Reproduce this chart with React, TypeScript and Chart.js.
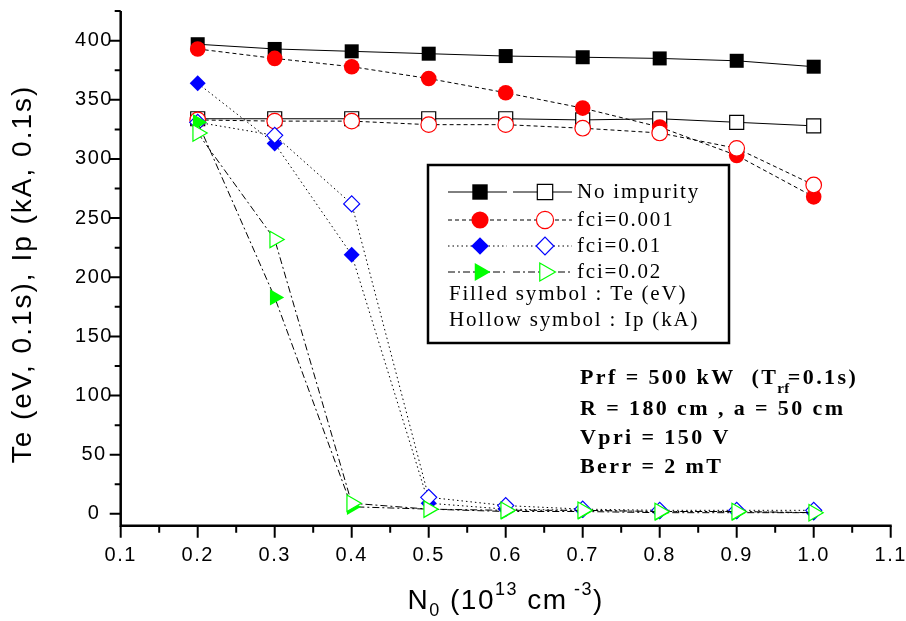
import React, { useEffect, useRef } from 'react';
import { Chart, registerables } from 'chart.js';

Chart.register(...registerables);

const W = 906;
const H = 621;

// ---- data ----
const nValues = [0.2, 0.3, 0.4, 0.5, 0.6, 0.7, 0.8, 0.9, 1.0];
const teNoImpurity = [397, 393, 391, 389, 387, 386, 385, 383, 378];
const ipNoImpurity = [334, 334, 334, 334, 334, 333, 334, 331, 328];
const teFci001 = [393, 385, 378, 368, 356, 343, 327, 303, 268];
const ipFci001 = [333, 332, 332, 329, 329, 326, 322, 309, 278];
const teFci01 = [364, 313, 219, 9, 4, 3, 2, 2, 1];
const ipFci01 = [331, 320, 262, 14, 7, 4, 3, 3, 3];
const teFci02 = [331, 183, 6, 4, 2, 2, 1, 1, 1];
const ipFci02 = [322, 232, 9, 4, 3, 3, 2, 2, 1];

const xTickValues = [0.1, 0.2, 0.3, 0.4, 0.5, 0.6, 0.7, 0.8, 0.9, 1.0, 1.1];
const xMinorTickValues = [0.15, 0.25, 0.35, 0.45, 0.55, 0.65, 0.75, 0.85, 0.95, 1.05];
const yTickValues = [0, 50, 100, 150, 200, 250, 300, 350, 400];
const yMinorTickValues = [25, 75, 125, 175, 225, 275, 325, 375, 425];

const seriesNames = ['No impurity', 'fci=0.001', 'fci=0.01', 'fci=0.02'];
const legendNotes = ['Filled symbol : Te (eV)', 'Hollow symbol : Ip (kA)'];
const infoLines = ['Prf = 500 kW  (T', 'R = 180 cm , a = 50 cm', 'Vpri = 150 V', 'Berr = 2 mT'];
const infoSub = 'rf';
const infoTail = '=0.1s)';
const yTitle = 'Te (eV, 0.1s), Ip (kA, 0.1s)';

// ---- styles ----
const seriesColors = ['#000000', '#ff0000', '#0000ff', '#00ff00'];
const seriesShapes = ['rect', 'circle', 'rectRot', 'triangle'];
const seriesRadius = [9.9, 7.8, 8, 9.5];
const seriesRotation = [0, 0, 0, 90];
const seriesDash = [[], [4, 3], [1.5, 3], [7, 3, 2, 3]];

const groups = [
  [teNoImpurity, ipNoImpurity],
  [teFci001, ipFci001],
  [teFci01, ipFci01],
  [teFci02, ipFci02],
];

const SANS = '"Liberation Sans", Arial, sans-serif';
const SERIF = '"Liberation Serif", "Times New Roman", serif';

function marker(ctx, shape, x, y, r, rot, fill, stroke, lw) {
  ctx.save();
  ctx.setLineDash([]);
  ctx.beginPath();
  if (shape === 'rect') {
    const s = r * Math.SQRT1_2;
    ctx.rect(x - s, y - s, 2 * s, 2 * s);
  } else if (shape === 'circle') {
    ctx.arc(x, y, r, 0, Math.PI * 2);
  } else if (shape === 'rectRot') {
    ctx.moveTo(x - r, y);
    ctx.lineTo(x, y - r);
    ctx.lineTo(x + r, y);
    ctx.lineTo(x, y + r);
    ctx.closePath();
  } else if (shape === 'triangle') {
    let a = (rot * Math.PI) / 180;
    ctx.moveTo(x + Math.sin(a) * r, y - Math.cos(a) * r);
    a += (2 * Math.PI) / 3;
    ctx.lineTo(x + Math.sin(a) * r, y - Math.cos(a) * r);
    a += (2 * Math.PI) / 3;
    ctx.lineTo(x + Math.sin(a) * r, y - Math.cos(a) * r);
    ctx.closePath();
  }
  ctx.fillStyle = fill;
  ctx.fill();
  if (lw > 0) {
    ctx.lineWidth = lw;
    ctx.strokeStyle = stroke;
    ctx.stroke();
  }
  ctx.restore();
}

function text(ctx, s, x, y, font, align, spacing) {
  ctx.font = font;
  ctx.letterSpacing = spacing || '0px';
  ctx.textAlign = align;
  ctx.textBaseline = 'middle';
  ctx.fillStyle = '#000';
  ctx.fillText(s, x, y);
}

const legendPlugin = {
  id: 'legendBox',
  afterDatasetsDraw(chart) {
    const ctx = chart.ctx;
    ctx.save();
    const bx = 428, by = 165, bw = 301, bh = 178;
    ctx.fillStyle = '#fff';
    ctx.fillRect(bx, by, bw, bh);
    ctx.lineWidth = 2.5;
    ctx.strokeStyle = '#000';
    ctx.strokeRect(bx, by, bw, bh);
    const rowY = [192, 220, 246, 272];
    seriesNames.forEach((name, i) => {
      const y = rowY[i];
      ctx.save();
      ctx.lineWidth = 1;
      ctx.strokeStyle = '#000';
      ctx.setLineDash(seriesDash[i]);
      ctx.beginPath();
      ctx.moveTo(448, y);
      ctx.lineTo(507, y);
      ctx.moveTo(513, y);
      ctx.lineTo(572, y);
      ctx.stroke();
      ctx.restore();
      marker(ctx, seriesShapes[i], 480, y, seriesRadius[i] * 1.1, seriesRotation[i], seriesColors[i], seriesColors[i], 0);
      marker(ctx, seriesShapes[i], 545, y, seriesRadius[i] * 1.1, seriesRotation[i], '#fff', seriesColors[i], 1.2);
      text(ctx, name, 577, y, `21px ${SERIF}`, 'left', '1.8px');
    });
    text(ctx, legendNotes[0], 449, 294, `21px ${SERIF}`, 'left', '1.8px');
    text(ctx, legendNotes[1], 449, 320, `21px ${SERIF}`, 'left', '1.8px');

    // info block
    const infoY = [378, 409, 438, 467];
    const bold = `bold 22px ${SERIF}`;
    infoLines.forEach((s, i) => {
      text(ctx, s, 580, infoY[i], bold, 'left', '2.4px');
    });
    ctx.font = bold;
    ctx.letterSpacing = '2.4px';
    const w0 = ctx.measureText(infoLines[0]).width;
    const subX = 580 + w0 - 1;
    text(ctx, infoSub, subX, infoY[0] + 11, `bold 15px ${SERIF}`, 'left', '0.5px');
    ctx.font = `bold 15px ${SERIF}`;
    ctx.letterSpacing = '0.5px';
    const ws = ctx.measureText(infoSub).width;
    text(ctx, infoTail, subX + ws - 2, infoY[0], bold, 'left', '2.4px');
    ctx.restore();
  },
};

const axesPlugin = {
  id: 'axesDraw',
  afterDraw(chart) {
    const ctx = chart.ctx;
    const xs = chart.scales.x;
    const ys = chart.scales.y;
    const { left, right, top, bottom } = chart.chartArea;
    ctx.save();
    ctx.strokeStyle = '#000';
    ctx.setLineDash([]);
    // axis lines
    ctx.lineWidth = 2.5;
    ctx.beginPath();
    ctx.moveTo(left, top);
    ctx.lineTo(left, bottom + 1.25);
    ctx.moveTo(left - 1.25, bottom);
    ctx.lineTo(right + 1, bottom);
    ctx.stroke();
    // ticks
    ctx.lineWidth = 2;
    ctx.beginPath();
    xTickValues.forEach((v) => {
      const px = xs.getPixelForValue(v);
      ctx.moveTo(px, bottom);
      ctx.lineTo(px, bottom + 12);
    });
    xMinorTickValues.forEach((v) => {
      const px = xs.getPixelForValue(v);
      ctx.moveTo(px, bottom);
      ctx.lineTo(px, bottom + 7);
    });
    yTickValues.forEach((v) => {
      const py = ys.getPixelForValue(v);
      ctx.moveTo(left, py);
      ctx.lineTo(left - 11, py);
    });
    yMinorTickValues.forEach((v) => {
      const py = ys.getPixelForValue(v);
      ctx.moveTo(left, py);
      ctx.lineTo(left - 6, py);
    });
    ctx.stroke();
    // tick labels
    xTickValues.forEach((v) => {
      text(ctx, v.toFixed(1), xs.getPixelForValue(v), 555, `20px ${SANS}`, 'center', '1.5px');
    });
    yTickValues.forEach((v) => {
      text(ctx, String(v), 94, ys.getPixelForValue(v), `20px ${SANS}`, 'center', '1.5px');
    });
    // y title
    ctx.save();
    ctx.translate(23, 274);
    ctx.rotate(-Math.PI / 2);
    text(ctx, yTitle, 0, 0, `28px ${SANS}`, 'center', '2px');
    ctx.restore();
    // x title with sub/superscripts
    const parts = [
      { t: 'N', s: 28, dy: 0 },
      { t: '0', s: 18, dy: 10 },
      { t: ' (10', s: 28, dy: 0 },
      { t: '13', s: 18, dy: -11 },
      { t: ' cm', s: 28, dy: 0 },
      { t: ' -3', s: 18, dy: -11 },
      { t: ')', s: 28, dy: 0 },
    ];
    let total = 0;
    parts.forEach((p) => {
      ctx.font = `${p.s}px ${SANS}`;
      ctx.letterSpacing = '1.5px';
      p.w = ctx.measureText(p.t).width;
      total += p.w;
    });
    let cx = (left + right) / 2 - total / 2;
    const ty = 601;
    parts.forEach((p) => {
      text(ctx, p.t, cx, ty + p.dy, `${p.s}px ${SANS}`, 'left', '1.5px');
      cx += p.w;
    });
    ctx.restore();
  },
};

export default function App() {
  const ref = useRef(null);
  useEffect(() => {
    const datasets = [];
    groups.forEach((g, gi) => {
      [0, 1].forEach((k) => {
        const hollow = k === 1;
        datasets.push({
          label: seriesNames[gi] + (hollow ? ' Ip' : ' Te'),
          data: nValues.map((x, i) => ({ x, y: g[k][i] })),
          borderColor: '#000',
          borderWidth: 1,
          borderDash: seriesDash[gi],
          pointStyle: seriesShapes[gi],
          pointRadius: seriesRadius[gi],
          pointRotation: seriesRotation[gi],
          pointBackgroundColor: hollow ? '#ffffff' : seriesColors[gi],
          pointBorderColor: seriesColors[gi],
          pointBorderWidth: hollow ? 1.2 : 0,
          fill: false,
          tension: 0,
          clip: false,
          order: 7 - datasets.length,
        });
      });
    });
    const chart = new Chart(ref.current, {
      type: 'line',
      data: { datasets },
      options: {
        responsive: false,
        animation: false,
        devicePixelRatio: 1,
        events: [],
        layout: { padding: { left: 120.7, right: 15.3, top: 6.7, bottom: 95.3 } },
        plugins: { legend: { display: false }, tooltip: { enabled: false }, title: { display: false } },
        scales: {
          x: { type: 'linear', min: 0.1, max: 1.1, display: false },
          y: { type: 'linear', min: -10, max: 425, display: false },
        },
      },
      plugins: [legendPlugin, axesPlugin],
    });
    return () => chart.destroy();
  }, []);
  return (
    <div style={{ position: 'fixed', left: 0, top: 0, width: W, height: H, background: '#fff' }}>
      <canvas ref={ref} width={W} height={H} style={{ display: 'block' }} />
    </div>
  );
}
